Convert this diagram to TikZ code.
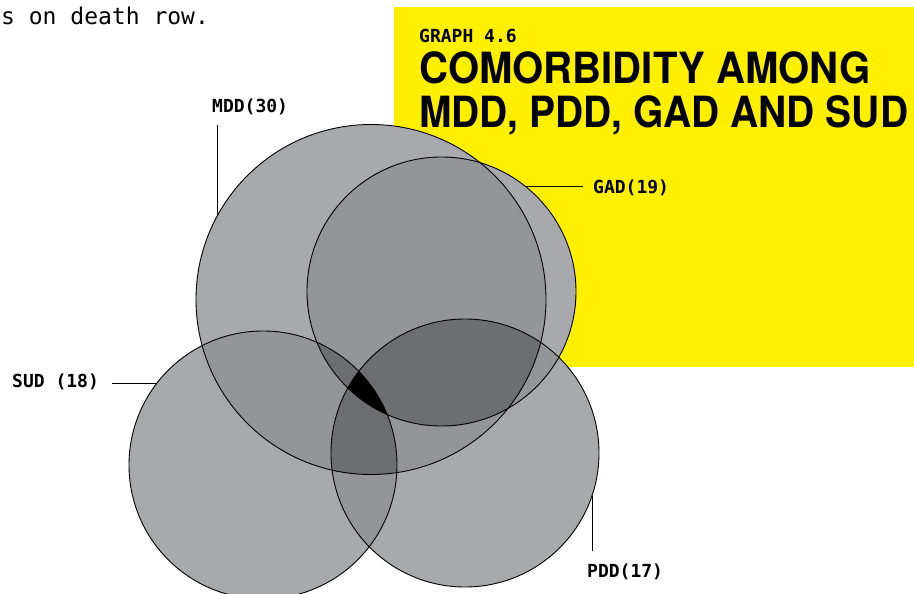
\documentclass[tikz,border=0pt]{standalone}
\usepackage{fontspec}
\usepackage{graphicx}
\setmainfont{TeX Gyre Heros}
\newfontfamily\monofont{DejaVu Sans Mono}
\definecolor{ybg}{HTML}{FFF000}
\definecolor{gone}{HTML}{A7A9AC}
\definecolor{gtwo}{HTML}{939598}
\definecolor{gthree}{HTML}{6D6E71}
\tikzset{
  mddc/.style={insert path={(371,299.5) circle [radius=175pt]}},
  gadc/.style={insert path={(441.5,291.5) circle [radius=134.5pt]}},
  sudc/.style={insert path={(263,465) circle [radius=134pt]}},
  pddc/.style={insert path={(465,453) circle [radius=134pt]}},
  lab/.style={anchor=base west, inner sep=0pt, font=\monofont\bfseries\fontsize{18}{18}\selectfont},
  conn/.style={draw=black, line width=1pt},
  outline/.style={draw=black, line width=0.9pt}
}
\begin{document}
\begin{tikzpicture}[x=1pt,y=-1pt]
\useasboundingbox (0,0) rectangle (914,594);
% yellow panel
\fill[ybg] (394,7) rectangle (914,367);
% body text fragment
\node[anchor=base west, inner sep=0pt, font=\monofont\fontsize{23}{23}\selectfont] (body) at (1,25) {s on death row.};
% title
\node[lab] (graphno) at (419,43) {GRAPH 4.6};
\node[anchor=base west, inner sep=0pt] (title1) at (419,83) {\resizebox{451pt}{\height}{\bfseries\fontsize{43}{43}\selectfont COMORBIDITY AMONG}};
\node[anchor=base west, inner sep=0pt] (title2) at (419,128) {\resizebox{489pt}{\height}{\bfseries\fontsize{43}{43}\selectfont MDD, PDD, GAD AND SUD}};
% single fills
\fill[gone, mddc];
\fill[gone, gadc];
\fill[gone, sudc];
\fill[gone, pddc];
% pair intersections
\begin{scope}\clip[mddc]; \fill[gtwo, gadc]; \fill[gtwo, sudc]; \fill[gtwo, pddc];\end{scope}
\begin{scope}\clip[gadc]; \fill[gtwo, sudc]; \fill[gtwo, pddc];\end{scope}
\begin{scope}\clip[sudc]; \fill[gtwo, pddc];\end{scope}
% triple intersections
\begin{scope}\clip[mddc]; \clip[gadc]; \fill[gthree, sudc]; \fill[gthree, pddc];\end{scope}
\begin{scope}\clip[mddc]; \clip[sudc]; \fill[gthree, pddc];\end{scope}
\begin{scope}\clip[gadc]; \clip[sudc]; \fill[gthree, pddc];\end{scope}
% quadruple
\begin{scope}\clip[mddc]; \clip[gadc]; \clip[sudc]; \fill[black, pddc];\end{scope}
% outlines
\path[outline, mddc];
\path[outline, gadc];
\path[outline, sudc];
\path[outline, pddc];
% labels and connectors
\node[lab] (mddlab) at (212,113) {MDD(30)};
\coordinate (mddtop) at (217,125);
\coordinate (mddend) at (217,216);
\draw[conn] (mddtop) -- (mddend);

\node[lab] (gadlab) at (593,193) {GAD(19)};
\coordinate (gadend) at (525,186);
\coordinate (gadstart) at (583,186);
\draw[conn] (gadstart) -- (gadend);

\node[lab] (sudlab) at (12,387) {SUD (18)};
\coordinate (sudstart) at (112,383);
\coordinate (sudend) at (157,383);
\draw[conn] (sudstart) -- (sudend);

\node[lab] (pddlab) at (587,577) {PDD(17)};
\coordinate (pddend) at (592,496);
\coordinate (pddstart) at (592,551);
\draw[conn] (pddstart) -- (pddend);
\end{tikzpicture}
\end{document}
